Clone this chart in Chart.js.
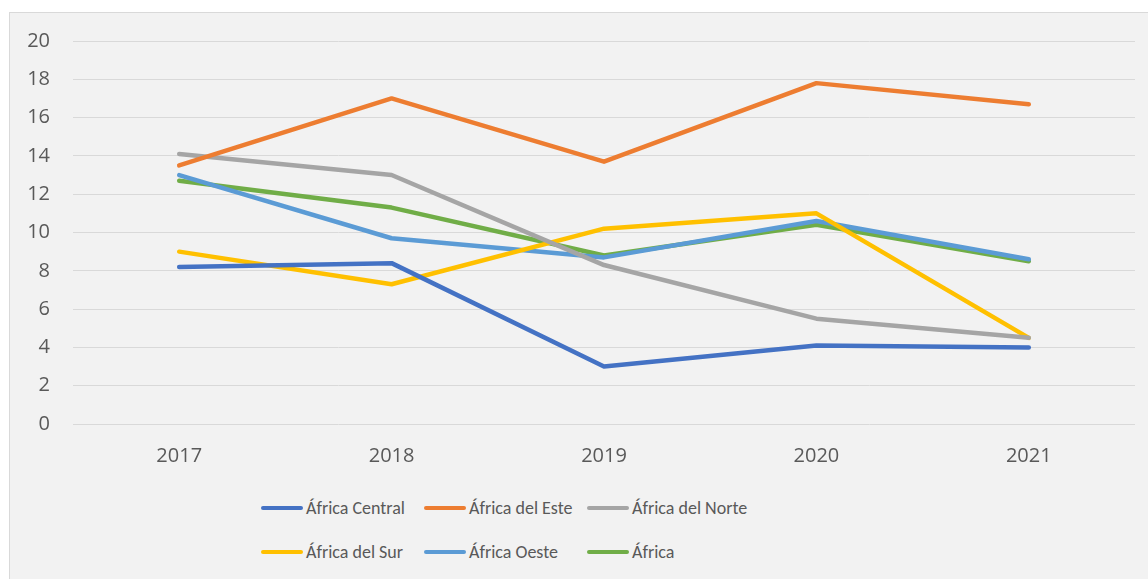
<!DOCTYPE html>
<html>
<head>
<meta charset="utf-8">
<script src="https://cdn.jsdelivr.net/npm/chart.js@4/dist/chart.umd.min.js"></script>
<style>
  body { margin: 0; background: #fff; font-family: Calibri, Carlito, Lato, sans-serif; }
  #box { position: absolute; left: 9px; top: 12px; width: 1145px; height: 575px;
         background: #f2f2f2; border: 1px solid #d9d9d9; }
  #wrap { position: absolute; left: 0; top: 0; width: 1139px; height: 470px; }
  #legend { position: absolute; left: 251px; top: 483px; display: grid;
            grid-template-columns: 163px 163px 200px; row-gap: 20px; }
  .item { display: flex; align-items: center; height: 24px; color: #595959; font-size: 18px; }
  .sw { width: 42px; height: 4.5px; border-radius: 2.25px; margin-right: 3px; }
</style>
</head>
<body>
<div id="box">
  <div id="wrap"><canvas id="chart"></canvas></div>
  <div id="legend"></div>
</div>
<script>
const years = ['2017', '2018', '2019', '2020', '2021'];
const seriesNames = ['África Central', 'África del Este', 'África del Norte', 'África del Sur', 'África Oeste', 'África'];
const central = [8.2, 8.4, 3.0, 4.1, 4.0];
const este = [13.5, 17.0, 13.7, 17.8, 16.7];
const norte = [14.1, 13.0, 8.3, 5.5, 4.5];
const sur = [9.0, 7.3, 10.2, 11.0, 4.5];
const oeste = [13.0, 9.7, 8.7, 10.6, 8.6];
const africa = [12.7, 11.3, 8.8, 10.4, 8.5];
const colors = ['#4472C4', '#ED7D31', '#A5A5A5', '#FFC000', '#5B9BD5', '#70AD47'];

const values = [central, este, norte, sur, oeste, africa];
const font = { family: '"Open Sans", sans-serif', size: 20 };

const ctx = document.getElementById('chart').getContext('2d');
const chart = new Chart(ctx, {
    type: 'line',
    data: {
        labels: years,
        datasets: values.map((v, i) => ({
            label: seriesNames[i],
            data: v,
            borderColor: colors[i],
            backgroundColor: colors[i],
            borderWidth: 4.5,
            borderCapStyle: 'round',
            borderJoinStyle: 'round',
            pointRadius: 0,
            tension: 0
        }))
    },
    options: {
        responsive: true,
        maintainAspectRatio: false,
        animation: false,
        layout: { padding: { top: 0, right: 14, left: 0, bottom: 0 } },
        plugins: {
            legend: { display: false },
            tooltip: { enabled: false }
        },
        scales: {
            x: {
                offset: true,
                grid: { display: false },
                border: { display: false },
                ticks: { color: '#595959', font: font, padding: 12 },
                afterFit: s => { s.height = 59; }
            },
            y: {
                min: 0,
                max: 20,
                ticks: { stepSize: 2, color: '#595959', font: font, padding: 23 },
                grid: { color: '#d9d9d9', lineWidth: 1, drawTicks: false },
                border: { display: false },
                afterFit: s => { s.width = 63; s.paddingTop = 28; s.paddingBottom = 0; }
            }
        }
    }
});

// legend in a fixed grid like the original
const legend = document.getElementById('legend');
seriesNames.forEach((name, i) => {
    const item = document.createElement('div');
    item.className = 'item';
    item.innerHTML = '<span class="sw" style="background:' + colors[i] + '"></span><span>' + name + '</span>';
    legend.appendChild(item);
});
</script>
</body>
</html>
